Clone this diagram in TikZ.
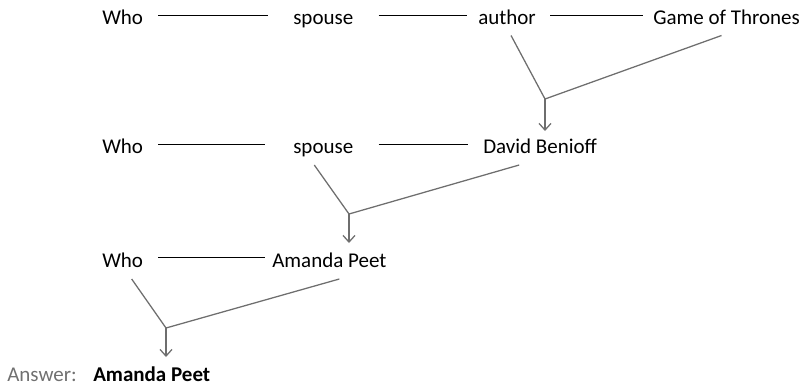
\documentclass[tikz,border=0pt]{standalone}
\usepackage{fontspec}
\setmainfont{Carlito}
\usetikzlibrary{arrows.meta,calc}
\definecolor{mgray}{HTML}{6E6E6E}
\definecolor{agray}{HTML}{707070}
\begin{document}
\begin{tikzpicture}[x=0.75pt,y=-0.75pt,
  lbl/.style={inner sep=0pt,anchor=base west,font=\fontsize{15.75}{18}\selectfont,text=black},
  hline/.style={draw=black,line width=0.7pt},
  merge/.style={draw=mgray,line width=0.95pt},
  down/.style={draw=mgray,line width=0.95pt,-{Straight Barb[length=5pt,width=9pt]}}]
\useasboundingbox (0,0) rectangle (810,390);
% row 1
\node[lbl] (w1) at (102,24.5) {Who};
\node[lbl] (s1) at (293,24.5) {spouse};
\node[lbl] (a1) at (478,24.5) {author};
\node[lbl] (g1) at (653,24.5) {Game of Thrones};
\draw[hline] ($(w1.base east)+(15,-9)$) -- ($(s1.base west)+(-25,-9)$);
\draw[hline] ($(s1.base east)+(25,-9)$) -- ($(a1.base west)+(-11,-9)$);
\draw[hline] ($(a1.base east)+(14,-9)$) -- ($(g1.base west)+(-10,-9)$);
\coordinate (m1) at (545,99);
\coordinate (e1) at (545,131);
\draw[merge] ($(a1.base)+(4,11)$) -- (m1) -- ($(g1.base)+(-5,11)$);
\draw[down] (m1) -- (e1);
% row 2
\node[lbl] (w2) at (102,153) {Who};
\node[lbl] (s2) at (293,153) {spouse};
\node[lbl] (d2) at (483,153) {David Benioff};
\draw[hline] ($(w2.base east)+(15,-9)$) -- ($(s2.base west)+(-28,-9)$);
\draw[hline] ($(s2.base east)+(25,-9)$) -- ($(d2.base west)+(-15,-9)$);
\coordinate (m2) at (349,214);
\coordinate (e2) at (349,243);
\draw[merge] ($(s2.base)+(-9,12)$) -- (m2) -- ($(d2.base)+(-21,12)$);
\draw[down] (m2) -- (e2);
% row 3
\node[lbl] (w3) at (102,267) {Who};
\node[lbl] (p3) at (272,267) {Amanda Peet};
\draw[hline] ($(w3.base east)+(15,-10)$) -- ($(p3.base west)+(-7,-10)$);
\coordinate (m3) at (166,328);
\coordinate (e3) at (166,357);
\draw[merge] ($(w3.base)+(9,12)$) -- (m3) -- ($(p3.base)+(10,12)$);
\draw[down] (m3) -- (e3);
% answer
\node[lbl,text=agray] (ans) at (7,381.5) {Answer:};
\node[lbl,font=\fontsize{15.75}{18}\selectfont\bfseries] (ap) at (93,381.5) {Amanda Peet};
\end{tikzpicture}
\end{document}
